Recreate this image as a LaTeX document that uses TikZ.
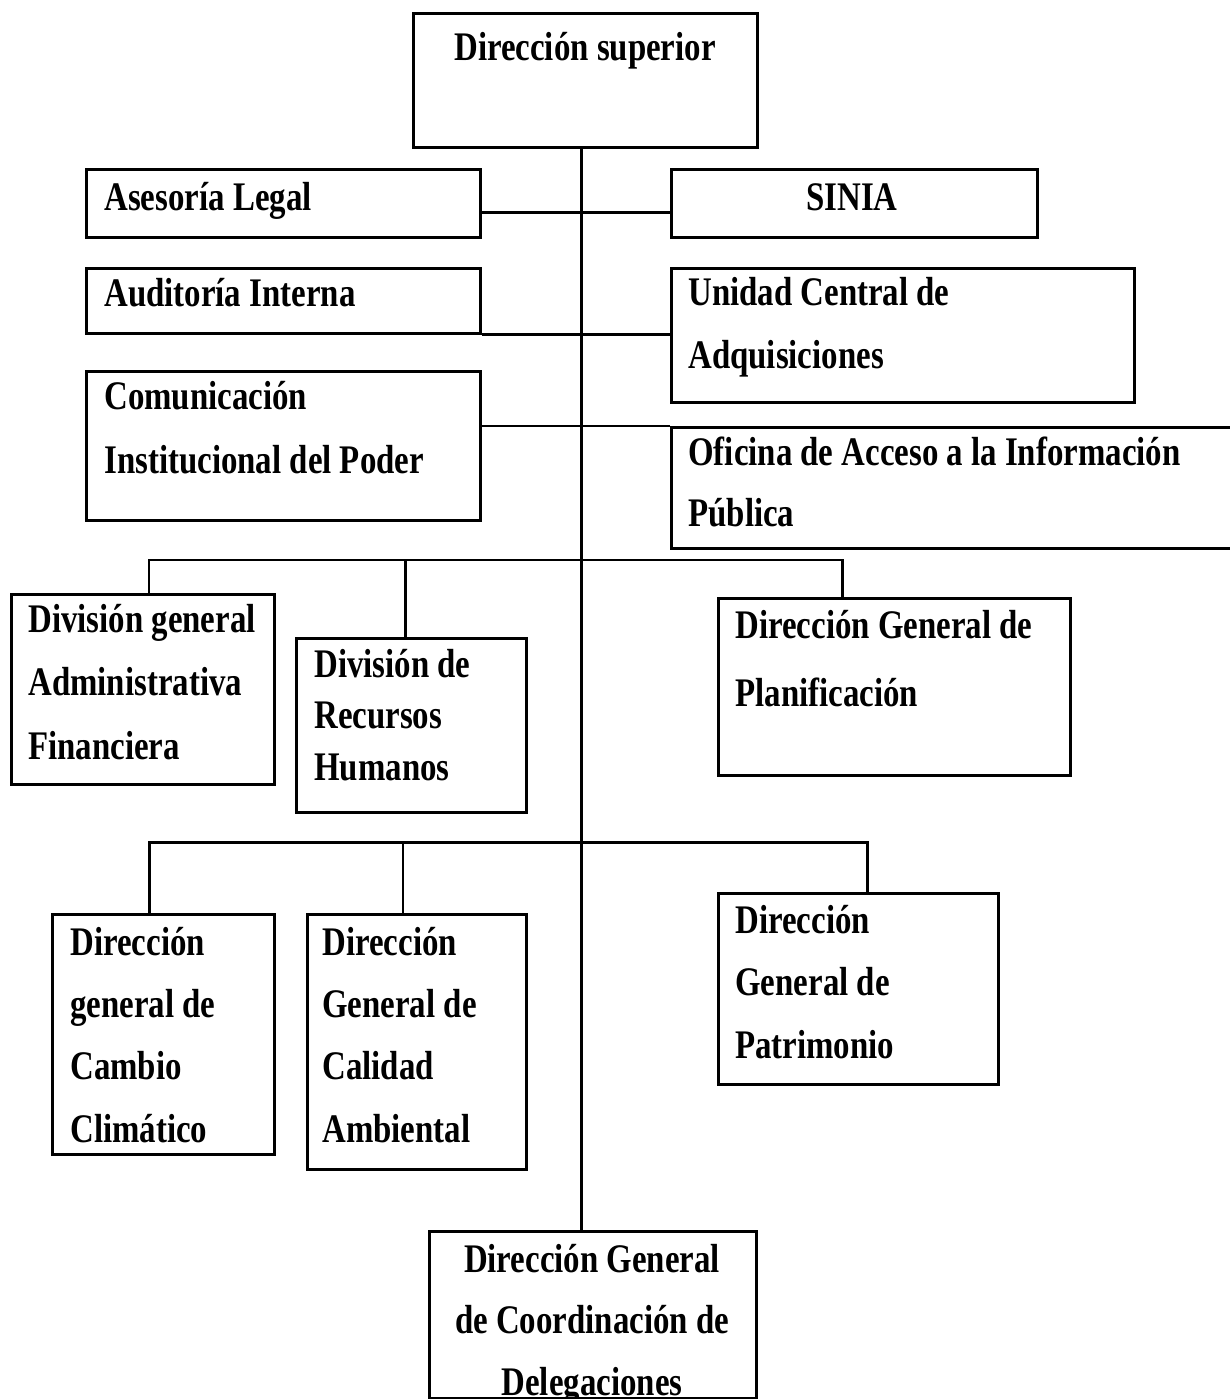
\documentclass[tikz,border=0pt]{standalone}
\usepackage{fontspec}
\newfontfamily\orgfont{Liberation Serif}[FakeStretch=0.81]
\usetikzlibrary{calc,positioning}
\tikzset{
   unit/.style 2 args = {draw, line width=1.7pt, inner sep=0pt, anchor=north west,
                         minimum width=#1*0.02cm, minimum height=#2*0.02cm},
    txt/.style = {inner sep=0pt, align=left, anchor=base west,
                  font=\orgfont\bfseries\fontsize{23.1pt}{#1}\selectfont},
    txt/.default = 35.3pt,
   ctxt/.style = {txt=#1, align=center, anchor=base},
   ctxt/.default = 35.3pt,
   link/.style = {line width=1.7pt},
}

\begin{document}
\begin{tikzpicture}[x=0.02cm,y=-0.02cm]
\useasboundingbox (0,0) rectangle (1230,1399);
\clip (0,0) rectangle (1230,1399);
% boxes
\node[unit={344}{134}] (top)      at (412,12)  {};
\node[unit={394}{68}]  (asesoria) at (85,168)  {};
\node[unit={366}{68}]  (sinia)    at (670,168) {};
\node[unit={394}{65}]  (audit)    at (85,267)  {};
\node[unit={463}{134}] (unidad)   at (670,267) {};
\node[unit={394}{149}] (comun)    at (85,370)  {};
\node[unit={600}{121}] (oficina)  at (670,426) {};
\node[unit={263}{190}] (divg)     at (10,593)  {};
\node[unit={230}{174}] (rrhh)     at (295,637) {};
\node[unit={352}{177}] (plan)     at (717,597) {};
\node[unit={222}{240}] (cambio)   at (51,913)  {};
\node[unit={219}{255}] (calidad)  at (306,913) {};
\node[unit={280}{191}] (patrim)   at (717,892) {};
\node[unit={327}{167}] (deleg)    at (428,1230) {};
% texts (placed at the baseline of their last line)
\node[ctxt] (top-t)      at (585,61)  {Dirección superior};
\node[txt]  (asesoria-t) at (104,210) {Asesoría Legal};
\node[ctxt] (sinia-t)    at (852,210) {SINIA};
\node[txt]  (audit-t)    at (104,306) {Auditoría Interna};
\node[txt]  (unidad-t)   at (688,368) {Unidad Central de\\Adquisiciones};
\node[txt=35.9pt] (comun-t) at (104,473) {Comunicación\\Institucional del Poder};
\node[txt=34.7pt] (oficina-t) at (688,526) {Oficina de Acceso a la Información\\Pública};
\node[txt=35.9pt] (divg-t)  at (28,759)  {División general\\Administrativa\\Financiera};
\node[txt=29.3pt] (rrhh-t)  at (314,780) {División de\\Recursos\\Humanos};
\node[txt=38.7pt] (plan-t)  at (735,706) {Dirección General de\\Planificación};
\node[txt]  (cambio-t)   at (70,1142)  {Dirección\\general de\\Cambio\\Climático};
\node[txt]  (calidad-t)  at (322,1142) {Dirección\\General de\\Calidad\\Ambiental};
\node[txt]  (patrim-t)   at (735,1058) {Dirección\\General de\\Patrimonio};
\node[ctxt=34.9pt] (deleg-t) at (592,1395) {Dirección General\\de Coordinación de\\Delegaciones};
% connectors
\coordinate (sp) at (581,0);
\coordinate (bus1) at (581,560);
\coordinate (bus2) at (581,842);
\draw[link] (sp |- top.south) -- (sp |- deleg.north);
\draw[link] ($(asesoria.east)+(0,9)$) -- ($(sinia.west)+(0,9)$);
\draw[link] (audit.south east) -- (unidad.west |- audit.south east);
\draw[link] (comun.east |- oficina.north west) -- (oficina.north west);
\draw[link] ($(divg.north)+(6,0)$) coordinate (d1) -- (d1 |- bus1) -| ($(plan.north)+(-52,0)$);
\draw[link] ($(rrhh.north)+(-6,0)$) coordinate (d2) -- (d2 |- bus1);
\draw[link] ($(cambio.north)+(-14,0)$) coordinate (d3) -- (d3 |- bus2) -| ($(patrim.north)+(9,0)$);
\draw[link] ($(calidad.north)+(-14,0)$) coordinate (d4) -- (d4 |- bus2);
\end{tikzpicture}
\end{document}
